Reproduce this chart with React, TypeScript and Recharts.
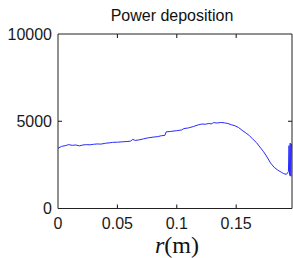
import React from "react";
import { LineChart, Line, XAxis, YAxis, Label, ReferenceLine } from "recharts";

const rValues = [
  0, 0.003, 0.006, 0.009, 0.012, 0.015, 0.018, 0.021, 0.024, 0.027, 0.03, 0.033, 0.036, 0.04,
  0.043, 0.046, 0.05, 0.054, 0.058, 0.061, 0.063, 0.065, 0.068, 0.072, 0.076, 0.08, 0.084,
  0.087, 0.09, 0.091, 0.095, 0.1, 0.104, 0.106, 0.11, 0.114, 0.118, 0.121, 0.124, 0.127,
  0.129, 0.131, 0.134, 0.137, 0.14, 0.143, 0.146, 0.149, 0.152, 0.155, 0.158, 0.161, 0.164,
  0.167, 0.17, 0.173, 0.176, 0.179, 0.182, 0.185, 0.188, 0.19, 0.192, 0.193, 0.194, 0.1945,
  0.195, 0.1955, 0.196, 0.1965,
];
const powerValues = [
  3450, 3560, 3600, 3660, 3620, 3640, 3590, 3640, 3660, 3650, 3680, 3700, 3690, 3740,
  3760, 3790, 3800, 3820, 3840, 3860, 3960, 3900, 3930, 3990, 4050, 4090, 4120,
  4170, 4190, 4390, 4420, 4460, 4500, 4580, 4620, 4700, 4790, 4840, 4830, 4870,
  4850, 4920, 4900, 4930, 4910, 4870, 4800, 4740, 4640, 4480, 4340, 4180, 3980,
  3780, 3520, 3260, 2950, 2600, 2360, 2200, 2080, 2000, 1960, 2000, 2120, 3600,
  1900, 3750, 1850, 3700,
];
const xTicks = [0, 0.05, 0.1, 0.15];
const yTicks = [0, 5000, 10000];
const xDomain = [0, 0.197];
const yDomain = [0, 10000];
const titleText = "Power deposition";

const data = rValues.map((r, i) => ({ r, p: powerValues[i] }));

const FONT = "Liberation Sans, Arial, sans-serif";
const textFill = "#1a1a1a";
const axisColor = "#222";
const tickColor = "#111";
const BOTTOM_MARGIN = 9;
const LEFT_MARGIN = 6;

// inward tick lengths expressed in data units (~4px)
const xTickLen = (yDomain[1] - yDomain[0]) * (4 / 174.5);
const yTickLen = (xDomain[1] - xDomain[0]) * (4 / 234);
const innerXTicks = xTicks.filter((t) => t > xDomain[0] && t < xDomain[1]);
const innerYTicks = yTicks.filter((t) => t > yDomain[0] && t < yDomain[1]);

const BottomTick = (props: any) => {
  const { x, y, payload } = props;
  return (
    <text x={x} y={y} dy="0.71em" textAnchor="middle" fontSize={16} fontFamily={FONT} fill={textFill}>
      {String(payload.value)}
    </text>
  );
};

const LeftTick = (props: any) => {
  const { x, y, payload } = props;
  return (
    <text x={x} y={y} dy="0.355em" textAnchor="end" fontSize={16} fontFamily={FONT} fill={textFill}>
      {String(payload.value)}
    </text>
  );
};

export default function App() {
  return (
    <div style={{ position: "absolute", left: 0, top: 0, width: 293, height: 258, background: "#fff" }}>
      <LineChart width={293} height={258} data={data} margin={{ top: 33, right: 0, bottom: 19.5, left: 0 }}>
        <XAxis
          dataKey="r"
          type="number"
          domain={xDomain}
          ticks={xTicks}
          interval={0}
          allowDataOverflow
          height={30}
          tickLine={false}
          tickSize={0}
          tickMargin={BOTTOM_MARGIN}
          tick={<BottomTick />}
          stroke={axisColor}
        >
          <Label
            content={(props: any) => {
              const vb = props.viewBox || { x: 0, width: 0, y: 0 };
              return (
                <text
                  x={vb.x + vb.width / 2 + 2}
                  y={253}
                  textAnchor="middle"
                  fontFamily="Liberation Serif, Times New Roman, serif"
                  fontSize={24}
                  fill="#111"
                >
                  <tspan fontStyle="italic">r</tspan>
                  <tspan>(m)</tspan>
                </text>
              );
            }}
          />
        </XAxis>
        <XAxis
          xAxisId="top"
          dataKey="r"
          orientation="top"
          type="number"
          domain={xDomain}
          ticks={xTicks}
          interval={0}
          allowDataOverflow
          height={1}
          tickLine={false}
          tick={false}
          stroke={axisColor}
        >
          <Label
            content={(props: any) => {
              const vb = props.viewBox || { x: 0, width: 0, y: 0 };
              return (
                <text
                  x={vb.x + vb.width / 2 - 3}
                  y={20.5}
                  textAnchor="middle"
                  fontFamily={FONT}
                  fontSize={16}
                  fill="#111"
                >
                  {titleText}
                </text>
              );
            }}
          />
        </XAxis>
        <YAxis
          type="number"
          domain={yDomain}
          ticks={yTicks}
          interval={0}
          allowDataOverflow
          width={58}
          tickLine={false}
          tickSize={0}
          tickMargin={LEFT_MARGIN}
          tick={<LeftTick />}
          stroke={axisColor}
        />
        <YAxis
          yAxisId="right"
          dataKey="p"
          orientation="right"
          type="number"
          domain={yDomain}
          ticks={yTicks}
          interval={0}
          allowDataOverflow
          width={1}
          tickLine={false}
          tick={false}
          stroke={axisColor}
        />
        {innerXTicks.map((t) => (
          <ReferenceLine
            key={"xb" + t}
            segment={[{ x: t, y: yDomain[0] }, { x: t, y: yDomain[0] + xTickLen }]}
            stroke={tickColor}
            strokeWidth={1}
            ifOverflow="visible"
          />
        ))}
        {innerXTicks.map((t) => (
          <ReferenceLine
            key={"xt" + t}
            segment={[{ x: t, y: yDomain[1] - xTickLen }, { x: t, y: yDomain[1] }]}
            stroke={tickColor}
            strokeWidth={1}
            ifOverflow="visible"
          />
        ))}
        {innerYTicks.map((t) => (
          <ReferenceLine
            key={"yl" + t}
            segment={[{ x: xDomain[0], y: t }, { x: xDomain[0] + yTickLen, y: t }]}
            stroke={tickColor}
            strokeWidth={1}
            ifOverflow="visible"
          />
        ))}
        {innerYTicks.map((t) => (
          <ReferenceLine
            key={"yr" + t}
            segment={[{ x: xDomain[1] - yTickLen, y: t }, { x: xDomain[1], y: t }]}
            stroke={tickColor}
            strokeWidth={1}
            ifOverflow="visible"
          />
        ))}
        <Line
          type="linear"
          dataKey="p"
          stroke="#2a2aff"
          strokeWidth={1}
          dot={false}
          isAnimationActive={false}
        />
      </LineChart>
    </div>
  );
}
